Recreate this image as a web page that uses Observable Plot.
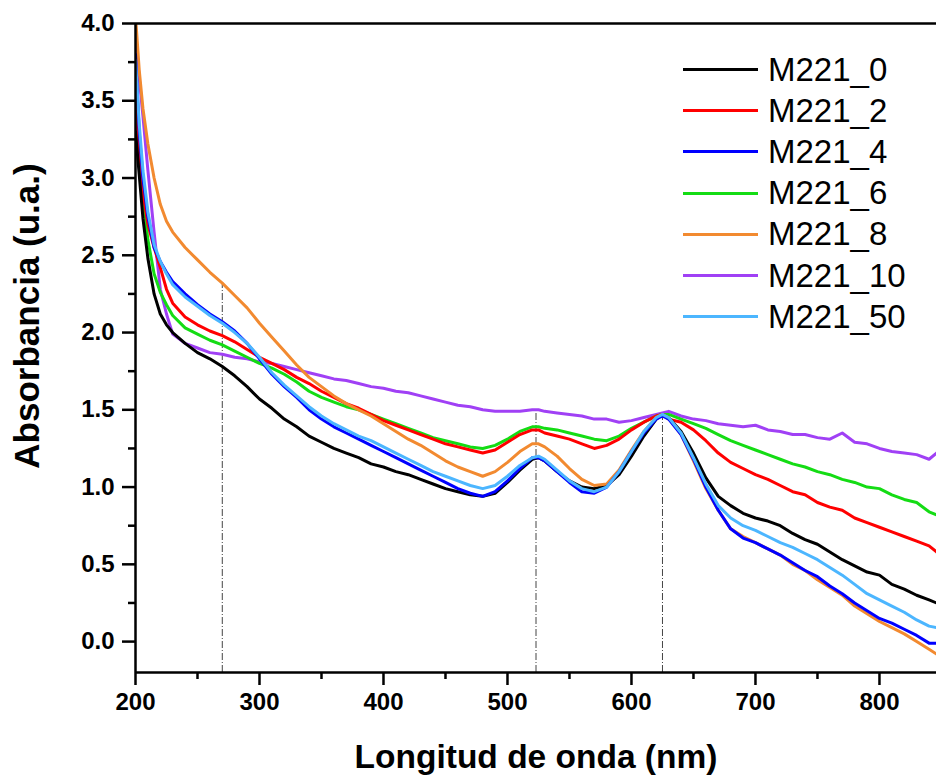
<!DOCTYPE html>
<html><head><meta charset="utf-8">
<script src="https://cdn.jsdelivr.net/npm/d3@7"></script>
<script src="https://cdn.jsdelivr.net/npm/@observablehq/plot@0.6"></script>
<style>
body{margin:0;background:#fff;}
#wrap{position:relative;width:936px;height:776px;overflow:hidden;}
#legend{position:absolute;left:683px;top:49px;font-family:"Liberation Sans",Arial,sans-serif;font-size:33px;color:#000;}
.row{display:flex;align-items:center;height:41.2px;white-space:nowrap;}
.sw{width:75px;height:3px;margin-right:10px;flex:none;}
</style></head><body><div id="wrap"><div id="chart"></div><div id="legend"></div></div>
<script>
const wavelength = [200,203,206,210,215,220,225,230,240,250,260,270,280,290,300,310,320,330,340,350,360,370,380,390,400,410,420,430,440,450,460,470,480,490,500,510,520,525,530,540,550,560,570,580,590,600,610,620,625,630,640,650,660,670,680,690,700,710,720,730,740,750,760,770,780,790,800,810,820,830,840,846];

const m221_0 = [3.30,3.02,2.74,2.48,2.25,2.12,2.05,2.00,
 1.93,1.87,1.83,1.78,1.72,1.65,1.57,1.51,1.44,1.39,1.33,1.29,1.25,1.22,1.19,1.15,1.13,1.10,1.08,1.05,1.02,0.99,0.97,0.95,0.94,0.96,1.03,1.11,
 1.18,1.19,1.17,
 1.10,1.04,1.00,0.99,1.01,1.08,1.20,1.33,1.44,
 1.47,
 1.45,1.36,1.22,1.06,0.94,0.88,0.83,0.80,0.78,0.75,0.70,0.66,0.63,0.58,0.53,0.49,0.45,0.43,0.37,0.34,0.30,0.27,
 0.25];
const m221_2 = [3.50,3.15,2.90,2.70,2.55,2.42,2.28,2.19,
 2.10,2.05,2.01,1.98,1.94,1.89,1.84,1.80,1.76,1.71,1.67,1.62,1.58,1.54,1.51,1.47,1.43,1.40,1.37,1.34,1.31,1.28,1.26,1.24,1.22,1.24,1.29,1.34,
 1.37,1.37,1.35,
 1.33,1.31,1.28,1.25,1.27,1.31,1.37,1.42,1.46,
 1.47,
 1.44,1.42,1.37,1.30,1.22,1.16,1.12,1.08,1.05,1.01,0.97,0.95,0.90,0.87,0.85,0.80,0.77,0.74,0.71,0.68,0.65,0.62,
 0.58];
const m221_4 = [3.80,3.30,3.00,2.75,2.55,2.46,2.39,2.33,
 2.25,2.18,2.12,2.07,2.01,1.93,1.83,1.73,1.65,1.58,1.50,1.44,1.39,1.35,1.31,1.27,1.23,1.19,1.15,1.11,1.07,1.03,0.99,0.96,0.94,0.97,1.04,1.12,
 1.19,1.19,1.17,
 1.10,1.03,0.97,0.96,1.00,1.10,1.23,1.35,1.44,
 1.46,
 1.44,1.34,1.18,1.00,0.85,0.73,0.67,0.64,0.60,0.56,0.51,0.46,0.42,0.36,0.31,0.25,0.20,0.15,0.12,0.08,0.04,-0.01,
 -0.01];
const m221_6 = [3.60,3.20,2.88,2.60,2.38,2.26,2.18,2.11,
 2.03,1.99,1.95,1.92,1.88,1.84,1.80,1.77,1.73,1.68,1.62,1.58,1.55,1.52,1.50,1.47,1.44,1.41,1.38,1.35,1.32,1.30,1.28,1.26,1.25,1.27,1.31,1.36,
 1.39,1.39,1.38,
 1.37,1.35,1.33,1.31,1.30,1.33,1.38,1.42,1.46,
 1.47,
 1.47,1.44,1.41,1.38,1.34,1.30,1.27,1.24,1.21,1.18,1.15,1.13,1.10,1.08,1.05,1.03,1.00,0.99,0.95,0.92,0.90,0.84,
 0.82];
const m221_8 = [4.05,3.70,3.45,3.22,3.00,2.83,2.72,2.65,
 2.55,2.47,2.39,2.32,2.24,2.16,2.06,1.97,1.88,1.79,1.71,1.65,1.59,1.54,1.50,1.46,1.41,1.36,1.31,1.27,1.22,1.17,1.13,1.10,1.07,1.10,1.16,1.23,
 1.28,1.28,1.26,
 1.20,1.12,1.05,1.01,1.02,1.11,1.24,1.36,1.45,
 1.47,
 1.45,1.34,1.17,0.99,0.85,0.73,0.68,0.64,0.60,0.56,0.50,0.46,0.40,0.35,0.30,0.23,0.18,0.13,0.09,0.05,0.00,-0.05,
 -0.08];
const m221_10 = [3.93,3.65,3.40,3.05,2.65,2.28,2.12,1.99,
 1.93,1.90,1.87,1.86,1.84,1.83,1.81,1.80,1.78,1.76,1.74,1.72,1.70,1.69,1.67,1.65,1.64,1.62,1.61,1.59,1.57,1.55,1.53,1.52,1.50,1.49,1.49,1.49,
 1.50,1.50,1.49,
 1.48,1.47,1.46,1.44,1.44,1.42,1.43,1.45,1.47,
 1.48,
 1.49,1.46,1.44,1.43,1.41,1.40,1.39,1.40,1.37,1.36,1.34,1.34,1.32,1.31,1.35,1.29,1.28,1.25,1.23,1.22,1.21,1.18,
 1.22];
const m221_50 = [3.76,3.35,3.05,2.78,2.57,2.46,2.38,2.31,
 2.23,2.17,2.11,2.06,2.00,1.93,1.84,1.74,1.66,1.59,1.52,1.46,1.41,1.37,1.33,1.30,1.26,1.22,1.18,1.14,1.10,1.07,1.04,1.01,0.99,1.01,1.07,1.14,
 1.19,1.20,1.18,
 1.11,1.04,0.99,0.97,1.00,1.10,1.23,1.36,1.45,
 1.47,
 1.45,1.35,1.19,1.02,0.88,0.80,0.75,0.72,0.68,0.64,0.61,0.57,0.53,0.48,0.43,0.37,0.31,0.27,0.23,0.19,0.14,0.10,
 0.09];

const seriesNames = ["M221_0","M221_2","M221_4","M221_6","M221_8","M221_10","M221_50"];
const seriesValues = [m221_0,m221_2,m221_4,m221_6,m221_8,m221_10,m221_50];
const seriesColors = ["#000000","#ff0000","#0000ff","#14dc14","#f28a30","#a040f5","#4cb6ff"];
const drawOrder = [5,3,1,0,4,2,6];

const markerX = [270,523,625];
const markerTop = [2.32,1.50,1.48];

const xDomain = [200,846];
const yDomain = [-0.2,4.0];
const xTicks = [200,300,400,500,600,700,800];
const xMinor = [250,350,450,550,650,750];
const yTicks = [0,0.5,1.0,1.5,2.0,2.5,3.0,3.5,4.0];
const yMinor = [-0.25,0.25,0.75,1.25,1.75,2.25,2.75,3.25,3.75].filter(v => v >= yDomain[0]);

const xTitle = "Longitud de onda (nm)";
const yTitle = "Absorbancia (u.a.)";

const rows = drawOrder.flatMap(i => wavelength.map((w, j) => ({series: seriesNames[i], x: w, y: seriesValues[i][j]})));
const markers = markerX.map((x, i) => ({x, top: markerTop[i]}));

const font = "Liberation Sans, Arial, sans-serif";
const chart = Plot.plot({
  width: 936, height: 776,
  marginLeft: 135, marginRight: 0, marginTop: 23, marginBottom: 104,
  x: {domain: xDomain},
  y: {domain: yDomain},
  color: {domain: seriesNames, range: seriesColors},
  style: {fontFamily: font, background: "#fff", color: "#000", overflow: "visible"},
  marks: [
    Plot.ruleX(markers, {x: "x", y1: yDomain[0], y2: "top", stroke: "#444", strokeWidth: 1, strokeDasharray: "7,2,1,2"}),
    Plot.line(rows, {x: "x", y: "y", z: "series", stroke: "series", strokeWidth: 3, clip: "frame", strokeLinejoin: "round"}),
    Plot.ruleY([yDomain[1]], {stroke: "#000", strokeWidth: 2.5}),
    Plot.ruleY([yDomain[0]], {stroke: "#000", strokeWidth: 2.5}),
    Plot.ruleX([xDomain[0]], {stroke: "#000", strokeWidth: 2.5}),
    Plot.axisX(xTicks, {tickSize: 13, tickPadding: 7, strokeWidth: 2.5, fontSize: 24, fontWeight: "bold", label: null}),
    Plot.axisX(xMinor, {tickSize: 7, strokeWidth: 2.5, text: null, label: null}),
    Plot.axisY(yTicks, {tickSize: 13, tickPadding: 8, strokeWidth: 2.5, fontSize: 24, fontWeight: "bold", tickFormat: d3.format(".1f"), label: null}),
    Plot.axisY(yMinor, {tickSize: 7, strokeWidth: 2.5, text: null, label: null}),
    Plot.text([xTitle], {frameAnchor: "bottom", dy: 95, fontSize: 33.5, fontWeight: "bold"}),
    Plot.text([yTitle], {frameAnchor: "left", textAnchor: "middle", rotate: -90, dx: -108, dy: -32, fontSize: 35, fontWeight: "bold"})
  ]
});
document.getElementById("chart").appendChild(chart);

const legend = d3.select("#legend");
seriesNames.forEach((name, i) => {
  const row = legend.append("div").attr("class", "row");
  row.append("div").attr("class", "sw").style("background", seriesColors[i]);
  row.append("span").text(name);
});
</script>
</body></html>
